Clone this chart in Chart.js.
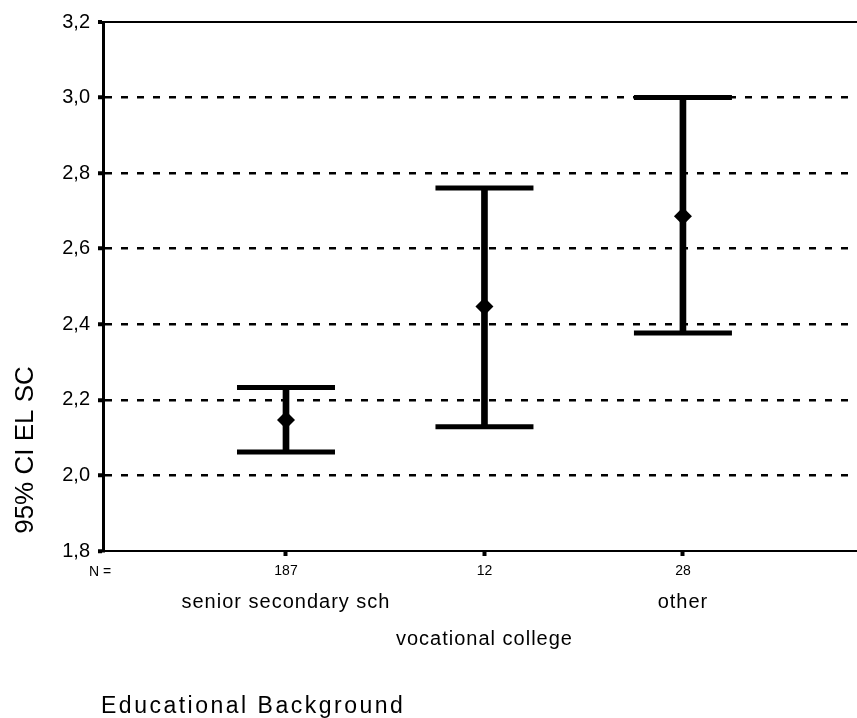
<!DOCTYPE html>
<html>
<head>
<meta charset="utf-8">
<script src="https://cdn.jsdelivr.net/npm/chart.js@4/dist/chart.umd.min.js"></script>
<style>
  html, body { margin: 0; padding: 0; background: #fff; }
  #wrap { width: 857px; height: 718px; }
</style>
</head>
<body>
<div id="wrap"><canvas id="c" width="857" height="718"></canvas></div>
<script>
// Groups of the educational background variable, in axis order
const categories = ['senior secondary sch', 'vocational college', 'other'];
const positions = [1, 2, 3];
const groupN = ['187', '12', '28'];
// Mean and 95% confidence interval of EL SC per group
const means = [2.147, 2.447, 2.686];
const ciLower = [2.062, 2.129, 2.377];
const ciUpper = [2.233, 2.761, 3.000];
// Value axis ticks
const yTicks = [1.8, 2.0, 2.2, 2.4, 2.6, 2.8, 3.0, 3.2];

const FONT = "'Liberation Sans', Arial, Helvetica, sans-serif";

const intervalData = positions.map((p, i) => ({ x: p, y: [ciLower[i], ciUpper[i]] }));
const capData = positions.flatMap((p, i) => [{ x: p, y: ciUpper[i] }, { x: p, y: ciLower[i] }]);
const meanData = positions.map((p, i) => ({ x: p, y: means[i] }));

// Axis titles and staggered group names under the N row
const textPlugin = {
  id: 'groupText',
  afterDraw(chart) {
    const ctx = chart.ctx;
    const xs = chart.scales.x;
    const area = chart.chartArea;
    ctx.save();
    ctx.fillStyle = '#000';

    // "N =" row header
    ctx.font = '14px ' + FONT;
    ctx.textAlign = 'center';
    ctx.textBaseline = 'alphabetic';
    ctx.fillText('N =', area.left - 3, 576);

    // group names, alternating rows
    ctx.font = '20px ' + FONT;
    ctx.letterSpacing = '1px';
    categories.forEach((name, i) => {
      const x = xs.getPixelForValue(positions[i]);
      const y = (i % 2 === 0) ? 608 : 645;
      ctx.fillText(name, x, y);
    });

    // x axis title
    ctx.font = '23px ' + FONT;
    ctx.letterSpacing = '2.5px';
    ctx.textAlign = 'left';
    ctx.fillText('Educational Background', 101, 713);

    // y axis title
    ctx.letterSpacing = '0px';
    ctx.font = '26px ' + FONT;
    ctx.translate(33, 450);
    ctx.rotate(-Math.PI / 2);
    ctx.textAlign = 'center';
    ctx.fillText('95% CI EL SC', 0, 0);
    ctx.restore();
  }
};

new Chart(document.getElementById('c'), {
  data: {
    datasets: [
      {
        type: 'scatter',
        label: 'mean',
        data: meanData,
        order: 0,
        pointStyle: 'rectRot',
        pointRadius: 9,
        pointBackgroundColor: '#000',
        pointBorderWidth: 0,
        showLine: false
      },
      {
        type: 'scatter',
        label: 'ci caps',
        data: capData,
        order: 1,
        pointStyle: 'line',
        pointRadius: 49,
        pointBorderWidth: 5,
        pointBorderColor: '#000',
        showLine: false
      },
      {
        type: 'bar',
        label: '95% CI',
        data: intervalData,
        order: 2,
        backgroundColor: '#000',
        borderWidth: 0,
        barThickness: 6,
        grouped: false
      }
    ]
  },
  options: {
    responsive: false,
    animation: false,
    events: [],
    layout: { autoPadding: false, padding: { top: 22, right: 0, left: 0, bottom: 0 } },
    plugins: {
      legend: { display: false },
      tooltip: { enabled: false },
      title: { display: false }
    },
    scales: {
      x: {
        type: 'linear',
        position: 'bottom',
        offset: false,
        min: 0.078,
        max: 3.877,
        afterBuildTicks(scale) {
          scale.ticks = positions.map(v => ({ value: v }));
        },
        afterFit(scale) { scale.height = 167; },
        ticks: {
          autoSkip: false,
          maxRotation: 0,
          padding: 7,
          color: '#000',
          font: { family: FONT, size: 14 },
          callback(value) {
            const i = positions.indexOf(value);
            return i >= 0 ? groupN[i] : '';
          }
        },
        grid: {
          offset: false,
          drawOnChartArea: false,
          drawTicks: true,
          tickLength: 5,
          tickWidth: 4,
          tickColor: '#000'
        },
        border: { display: true, color: '#000', width: 2 }
      },
      y: {
        type: 'linear',
        min: 1.8,
        max: 3.2,
        afterBuildTicks(scale) {
          scale.ticks = yTicks.map(v => ({ value: v }));
        },
        afterFit(scale) { scale.width = 103; },
        ticks: {
          padding: 8,
          color: '#000',
          font: { family: FONT, size: 20 },
          callback(value) { return value.toFixed(1).replace('.', ','); }
        },
        grid: {
          drawTicks: true,
          tickLength: 5,
          tickWidth: 4,
          tickColor: '#000',
          tickBorderDash: [],
          color(ctx) {
            const v = ctx.tick ? ctx.tick.value : null;
            return (v !== null && Math.abs(v - 1.8) < 1e-6) ? 'rgba(0,0,0,0)' : '#000';
          },
          lineWidth(ctx) {
            const v = ctx.tick ? ctx.tick.value : null;
            return (v !== null && Math.abs(v - 3.2) < 1e-6) ? 2 : 2.5;
          }
        },
        border: {
          display: true,
          color: '#000',
          width: 3,
          dash(ctx) {
            const v = ctx.tick ? ctx.tick.value : null;
            return (v !== null && Math.abs(v - 3.2) < 1e-6) ? [] : [7, 9];
          }
        }
      }
    }
  },
  plugins: [textPlugin]
});
</script>
</body>
</html>
